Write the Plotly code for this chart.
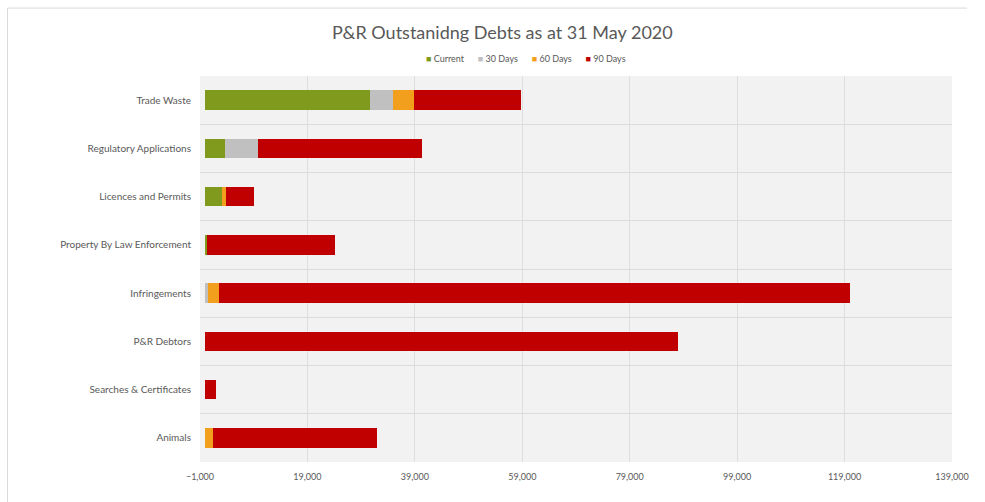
"""P&R outstanding debts, stacked horizontal bars."""
import plotly.graph_objects as go

categories = [
    "Trade Waste",
    "Regulatory Applications",
    "Licences and Permits",
    "Property By Law Enforcement",
    "Infringements",
    "P&R Debtors",
    "Searches & Certificates",
    "Animals",
]
current = [30700, 3700, 3100, 300, 0, 0, 0, 0]
days_30 = [4300, 6100, 0, 0, 500, 0, 0, 0]
days_60 = [3800, 0, 700, 0, 2000, 0, 0, 1400]
days_90 = [19900, 30500, 5300, 23900, 117500, 88000, 2000, 30600]

tick_vals = [-1000, 19000, 39000, 59000, 79000, 99000, 119000, 139000]

series = [
    ("Current", current, "#7f9a1c"),
    ("30 Days", days_30, "#c0c0c0"),
    ("60 Days", days_60, "#f29f1d"),
    ("90 Days", days_90, "#c00000"),
]

font = "Lato, 'Open Sans', sans-serif"
fig = go.Figure()
for name, vals, color in series:
    fig.add_trace(
        go.Bar(
            y=categories,
            x=vals,
            name=name,
            orientation="h",
            marker=dict(color=color, line=dict(width=0)),
            showlegend=False,
        )
    )

# compact Excel-style legend as one line of text
legend_text = "&nbsp;" * 6
legend_text = legend_text.join(
    f"<span style='color:{color}'>■</span>&nbsp;{name}" for name, _, color in series
)
fig.add_annotation(
    text=legend_text,
    xref="paper",
    yref="paper",
    x=(526 - 200) / 752,
    y=1 + (76 - 58) / 386,
    xanchor="center",
    yanchor="middle",
    showarrow=False,
    font=dict(size=9, color="#595959", family=font),
)

fig.update_layout(
    width=985,
    height=502,
    barmode="stack",
    bargap=0.6,
    paper_bgcolor="white",
    plot_bgcolor="#f2f2f2",
    margin=dict(l=200, r=33, t=76, b=40),
    font=dict(family=font, color="#595959", size=10),
    title=dict(
        text="P&R Outstanidng Debts as at 31 May 2020",
        x=0.51,
        xanchor="center",
        y=0.934,
        yanchor="middle",
        font=dict(size=18, color="#595959", family=font),
    ),
    showlegend=False,
)
fig.update_xaxes(
    range=[-1000, 139000],
    tickvals=tick_vals,
    tickformat=",",
    showgrid=True,
    gridcolor="#dedede",
    gridwidth=1,
    zeroline=False,
    automargin=False,
    ticklabelstandoff=8,
    tickfont=dict(size=9, color="#595959"),
    ticks="",
)
fig.update_yaxes(
    autorange="reversed",
    tickson="boundaries",
    showgrid=True,
    gridcolor="#dcdcdc",
    ticks="",
    automargin=False,
    ticklabelstandoff=8,
    tickfont=dict(size=10, color="#595959"),
)

# thin chart-area border (top and left edges)
fig.add_shape(type="line", xref="paper", yref="paper", x0=-0.256, x1=1.02,
              y0=1.176, y1=1.176, line=dict(color="#d9d9d9", width=1))
fig.add_shape(type="line", xref="paper", yref="paper", x0=-0.256, x1=-0.256,
              y0=1.176, y1=-0.11, line=dict(color="#d9d9d9", width=1))

fig.write_html(
    "out.html",
    config={"displayModeBar": False},
    post_script="document.body.style.margin='0';",
)
